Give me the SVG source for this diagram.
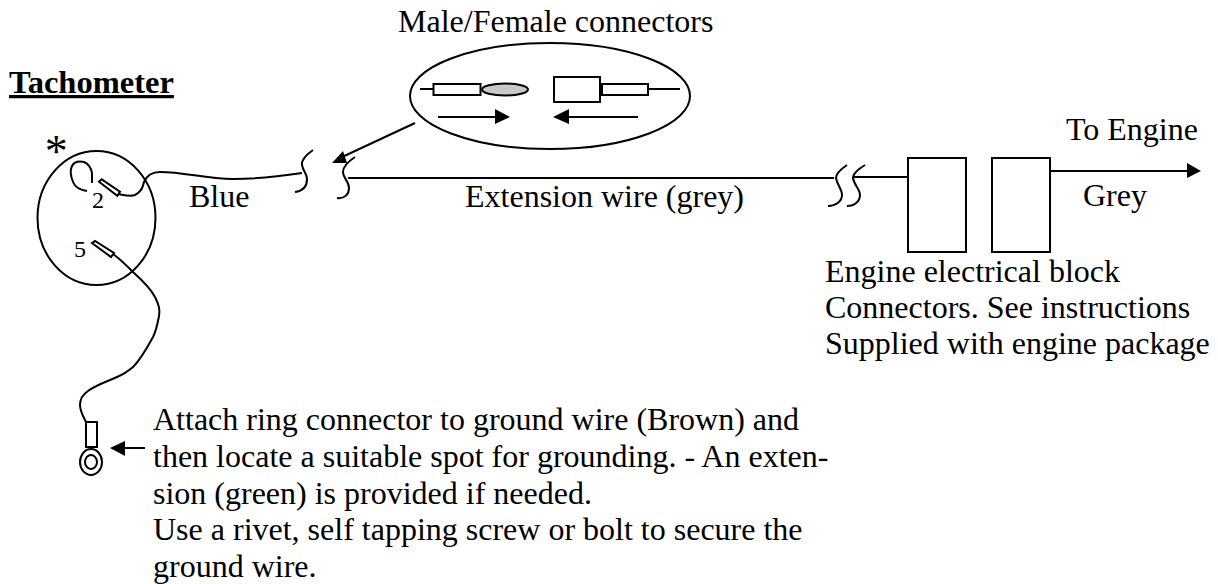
<svg xmlns="http://www.w3.org/2000/svg" width="1218" height="584" viewBox="0 0 1218 584">
<style>
text{font-family:"Liberation Serif","Times New Roman",serif;font-size:32px;fill:#000}
.s{font-size:24px}
.l{fill:none;stroke:#000;stroke-width:2}
.b{fill:#fff;stroke:#000;stroke-width:2}
.a{fill:#000;stroke:none}
</style>
<rect width="1218" height="584" fill="#fff"/>
<g id="title"><text x="9" y="93" font-weight="bold" style="font-size:32.500px;text-decoration:underline;text-decoration-thickness:4px;text-underline-offset:3px">Tachometer</text></g>
<g id="connectors">
<path class="l" d="M118 194C124 195 130 197 135 195C142 192 143 186 144 182C147 175 152 172 160 172C185 172 205 179 233 179C260 179 282 176 302 173"/>
<path class="l" d="M113 254C120 259 126 265 133 272C143 281 151 289 155 297C159 305 160 309 159 316C157 327 156 331 153 337C147 348 141 359 133 367C127 372 122 375 117 377C106 382 96 385 88 391C82 395 80 400 80 405C80 411 83 416 86 422"/>
<path class="l" d="M348 178H834"/>
<path class="l" d="M853 177H908"/>
<path class="l" d="M1050 171H1187"/>
<path class="a" d="M1201 171L1187 163V178Z"/>
<path class="l" d="M415 123L340 158"/>
<path class="a" d="M332 163L343 151L347 163Z"/>
<path class="l" d="M145 448H124"/>
<path class="a" d="M110 448L125 441V456Z"/>
</g>
<g id="tachometer">
<ellipse class="l" cx="96.500" cy="218" rx="59" ry="67"/>
<path class="l" d="M87 191C80 190 75 187 73 182C71 177 70 170 72 166C74 162 79 161 84 162C89 164 91 168 92 173C92 177 92 180 92 183"/>
<path class="b" d="M99 181.700L101.700 179.300L120 191.700L117.300 195.700Z"/>
<path class="b" d="M92 243L95 241L114 253L111 257Z"/>
<text class="s" x="92" y="208">2</text>
<text class="s" x="74" y="257">5</text>
<text x="44.700" y="167" style="font-size:46px">*</text>
</g>
<g id="breaks">
<path class="l" d="M313 150C306 155 301 160 302 165C303 171 307 174 307 179C307 186 303 191 295 192"/>
<path class="l" d="M355 157C349 161 343 166 343 172C343 178 349 181 349 188C349 194 345 199 337 198"/>
<path class="l" d="M847 165C841 169 836 173 836 178C837 185 842 189 842 195C842 201 836 206 828 206"/>
<path class="l" d="M865 165C859 169 853 173 853 178C854 185 860 189 860 195C860 201 855 206 847 206"/>
</g>
<g id="callout">
<ellipse class="l" cx="550" cy="96" rx="140" ry="53"/>
<path class="l" d="M420 89H433M648 89H680"/>
<rect class="b" x="433.500" y="84" width="47" height="11"/>
<ellipse cx="505" cy="89.500" rx="23" ry="6" fill="#c8c8c8" stroke="#000" stroke-width="2"/>
<rect class="b" x="554" y="77" width="46" height="25"/>
<rect class="b" x="602" y="84" width="46" height="11"/>
<path class="l" d="M438 117H497M638 117H568"/>
<path class="a" d="M510 117L495 109V124ZM553 117L569 109V124Z"/>
<text x="398" y="32">Male/Female connectors</text>
</g>
<g id="engine-block">
<rect class="b" x="908" y="158" width="58" height="94"/>
<rect class="b" x="992" y="158" width="58" height="94"/>
<text x="825" y="282">Engine electrical block</text>
<text x="825" y="318">Connectors. See instructions</text>
<text x="825" y="354">Supplied with engine package</text>
</g>
<g id="labels">
<text x="189" y="207">Blue</text>
<text x="465" y="207">Extension wire (grey)</text>
<text x="1083" y="206">Grey</text>
<text x="1066" y="140">To Engine</text>
</g>
<g id="ring">
<rect class="b" x="86" y="422" width="11" height="25"/>
<ellipse class="l" cx="91" cy="462" rx="11" ry="13"/>
<ellipse class="l" cx="91" cy="462" rx="6" ry="7"/>
</g>
<g id="note">
<text x="153" y="430">Attach ring connector to ground wire (Brown) and</text>
<text x="153" y="467">then locate a suitable spot for grounding. - An exten-</text>
<text x="153" y="504">sion (green) is provided if needed.</text>
<text x="153" y="540">Use a rivet, self tapping screw or bolt to secure the</text>
<text x="153" y="577">ground wire.</text>
</g>
</svg>
